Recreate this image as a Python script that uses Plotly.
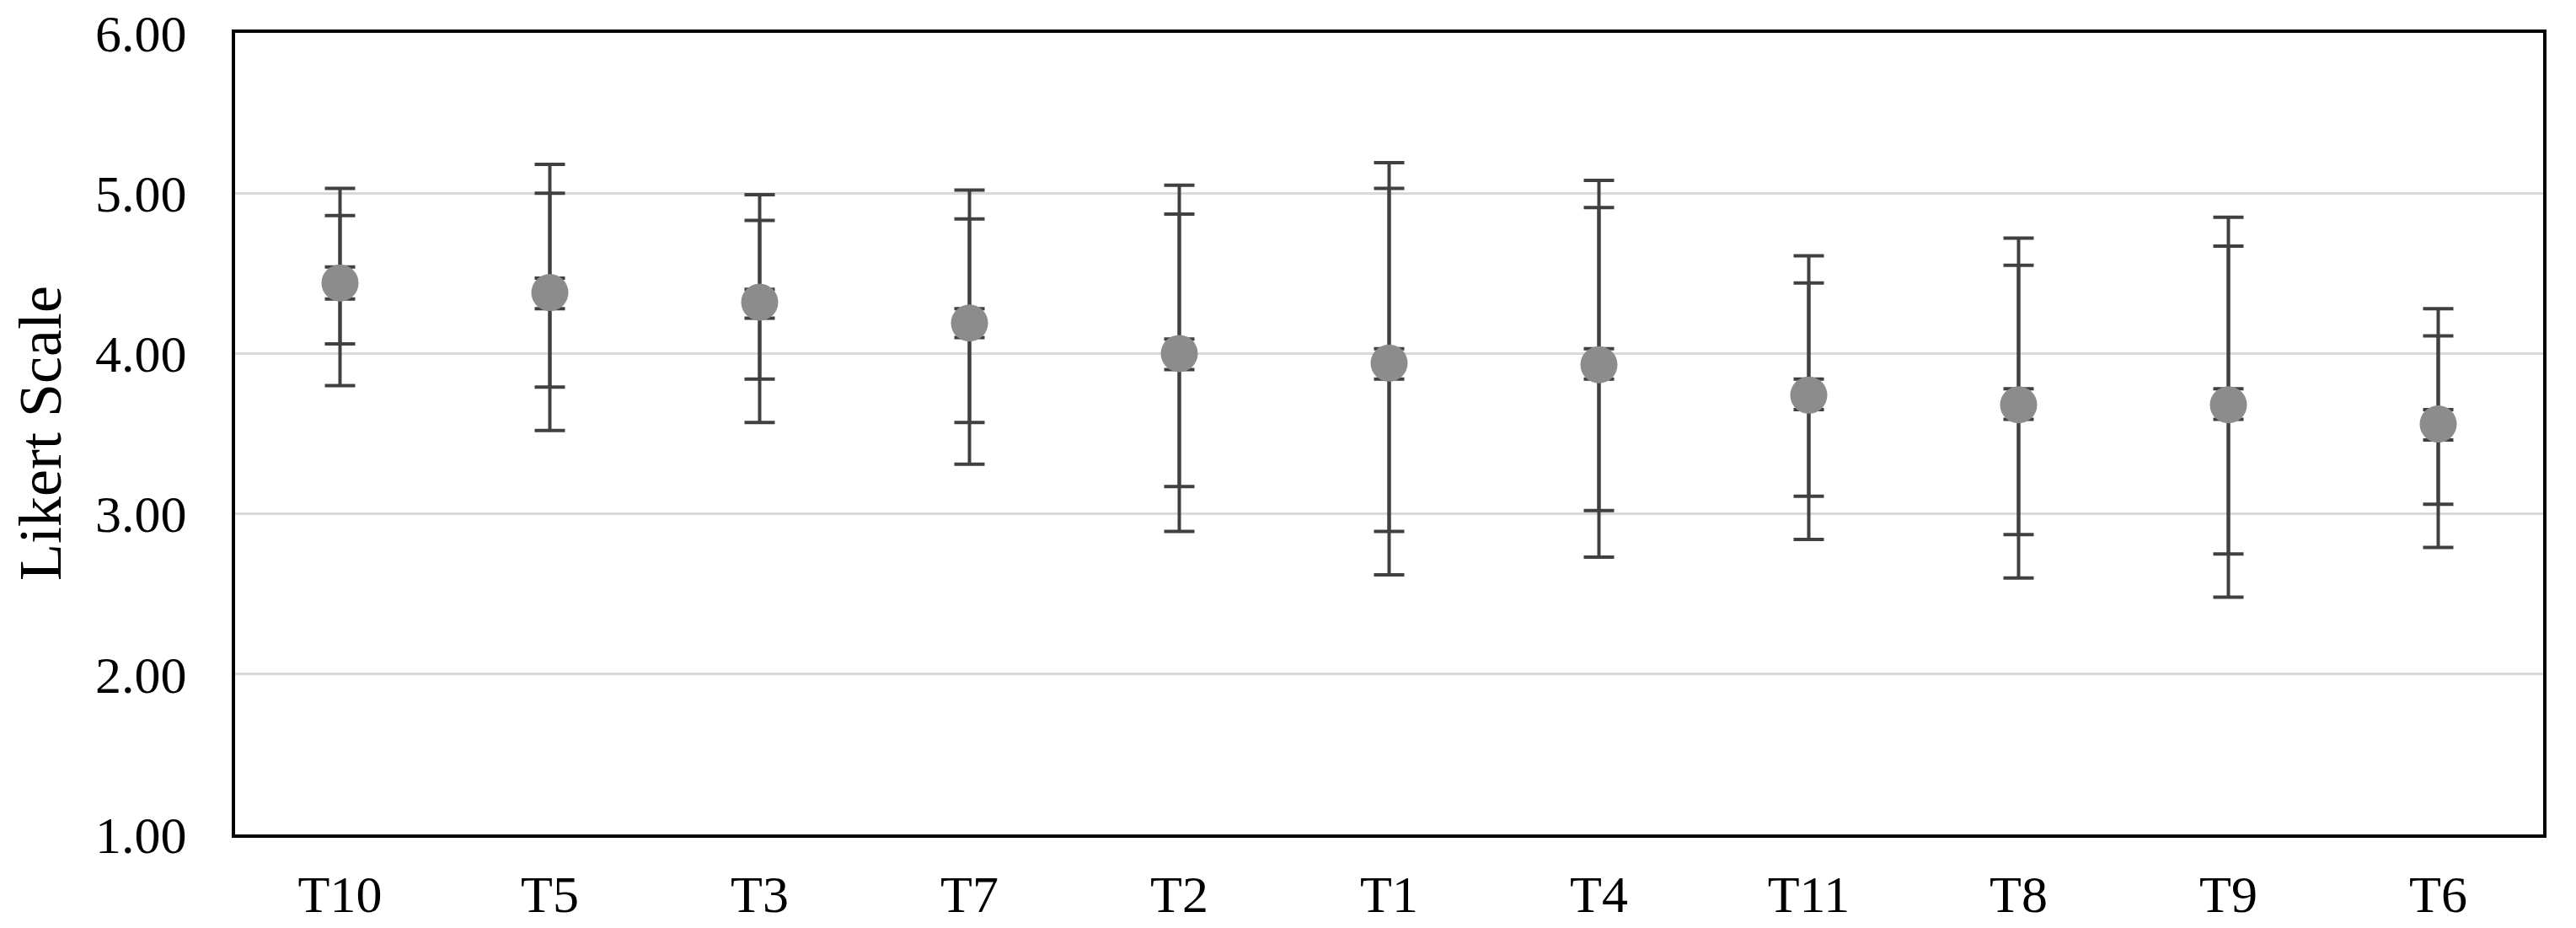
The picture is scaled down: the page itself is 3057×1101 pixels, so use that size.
import plotly.graph_objects as go

categories = ["T10", "T5", "T3", "T7", "T2", "T1", "T4", "T11", "T8", "T9", "T6"]
mean_vals = [4.44, 4.38, 4.32, 4.19, 4.00, 3.94, 3.93, 3.74, 3.68, 3.68, 3.56]
small_upper = [4.54, 4.47, 4.40, 4.28, 4.09, 4.03, 4.03, 3.84, 3.78, 3.78, 3.65]
small_lower = [4.34, 4.28, 4.22, 4.10, 3.90, 3.84, 3.84, 3.65, 3.59, 3.59, 3.46]
inner_upper = [4.86, 5.00, 4.83, 4.84, 4.87, 5.03, 4.91, 4.44, 4.55, 4.67, 4.11]
inner_lower = [4.06, 3.79, 3.84, 3.57, 3.17, 2.89, 3.02, 3.11, 2.87, 2.75, 3.06]
outer_upper = [5.03, 5.18, 4.99, 5.02, 5.05, 5.19, 5.08, 4.61, 4.72, 4.85, 4.28]
outer_lower = [3.80, 3.52, 3.57, 3.31, 2.89, 2.62, 2.73, 2.84, 2.60, 2.48, 2.79]
y_ticks = [1, 2, 3, 4, 5, 6]

ERR_COLOR = "#404040"
MARK_COLOR = "#8c8c8c"
FONT = "Liberation Serif"


def err(upper, lower):
    return dict(
        type="data", symmetric=False,
        array=[u - m for u, m in zip(upper, mean_vals)],
        arrayminus=[m - l for m, l in zip(mean_vals, lower)],
        color=ERR_COLOR, thickness=4, width=18, visible=True,
    )


fig = go.Figure()
fig.add_trace(go.Scatter(
    x=categories, y=mean_vals, mode="markers",
    marker=dict(size=1, opacity=0),
    error_y=err(outer_upper, outer_lower), showlegend=False, hoverinfo="skip",
))
fig.add_trace(go.Scatter(
    x=categories, y=mean_vals, mode="markers",
    marker=dict(size=1, opacity=0),
    error_y=err(inner_upper, inner_lower), showlegend=False, hoverinfo="skip",
))
fig.add_trace(go.Scatter(
    x=categories, y=mean_vals, mode="markers",
    marker=dict(size=44, color=MARK_COLOR, line=dict(width=0)),
    error_y=err(small_upper, small_lower), showlegend=False,
))

fig.update_layout(
    width=3057, height=1101, autosize=False,
    margin=dict(l=279, r=39, t=39, b=111),
    paper_bgcolor="white", plot_bgcolor="white",
    font=dict(family=FONT, color="black", size=62),
    xaxis=dict(
        type="category", categoryorder="array", categoryarray=categories,
        range=[-0.5, len(categories) - 0.5], automargin=False,
        showgrid=False, zeroline=False,
        showline=True, linecolor="black", linewidth=4, mirror=True,
        ticks="", ticklabelstandoff=14,
        tickfont=dict(family=FONT, size=62, color="black"),
    ),
    yaxis=dict(
        range=[1, 6], tickvals=y_ticks, tickformat=".2f", automargin=False,
        showgrid=True, gridcolor="#d9d9d9", gridwidth=3, zeroline=False,
        showline=True, linecolor="black", linewidth=4, mirror=True,
        ticks="", ticklabelstandoff=41,
        tickfont=dict(family=FONT, size=62, color="black"),
    ),
    annotations=[dict(
        text="Likert Scale", textangle=-90,
        xref="paper", yref="paper", x=(47.5 - 279) / 2739, y=0.5,
        xanchor="center", yanchor="middle", showarrow=False,
        font=dict(family=FONT, size=72, color="black"),
    )],
)

fig.write_html("out.html", config={"displayModeBar": False},
               post_script="document.body.style.margin='0';")
